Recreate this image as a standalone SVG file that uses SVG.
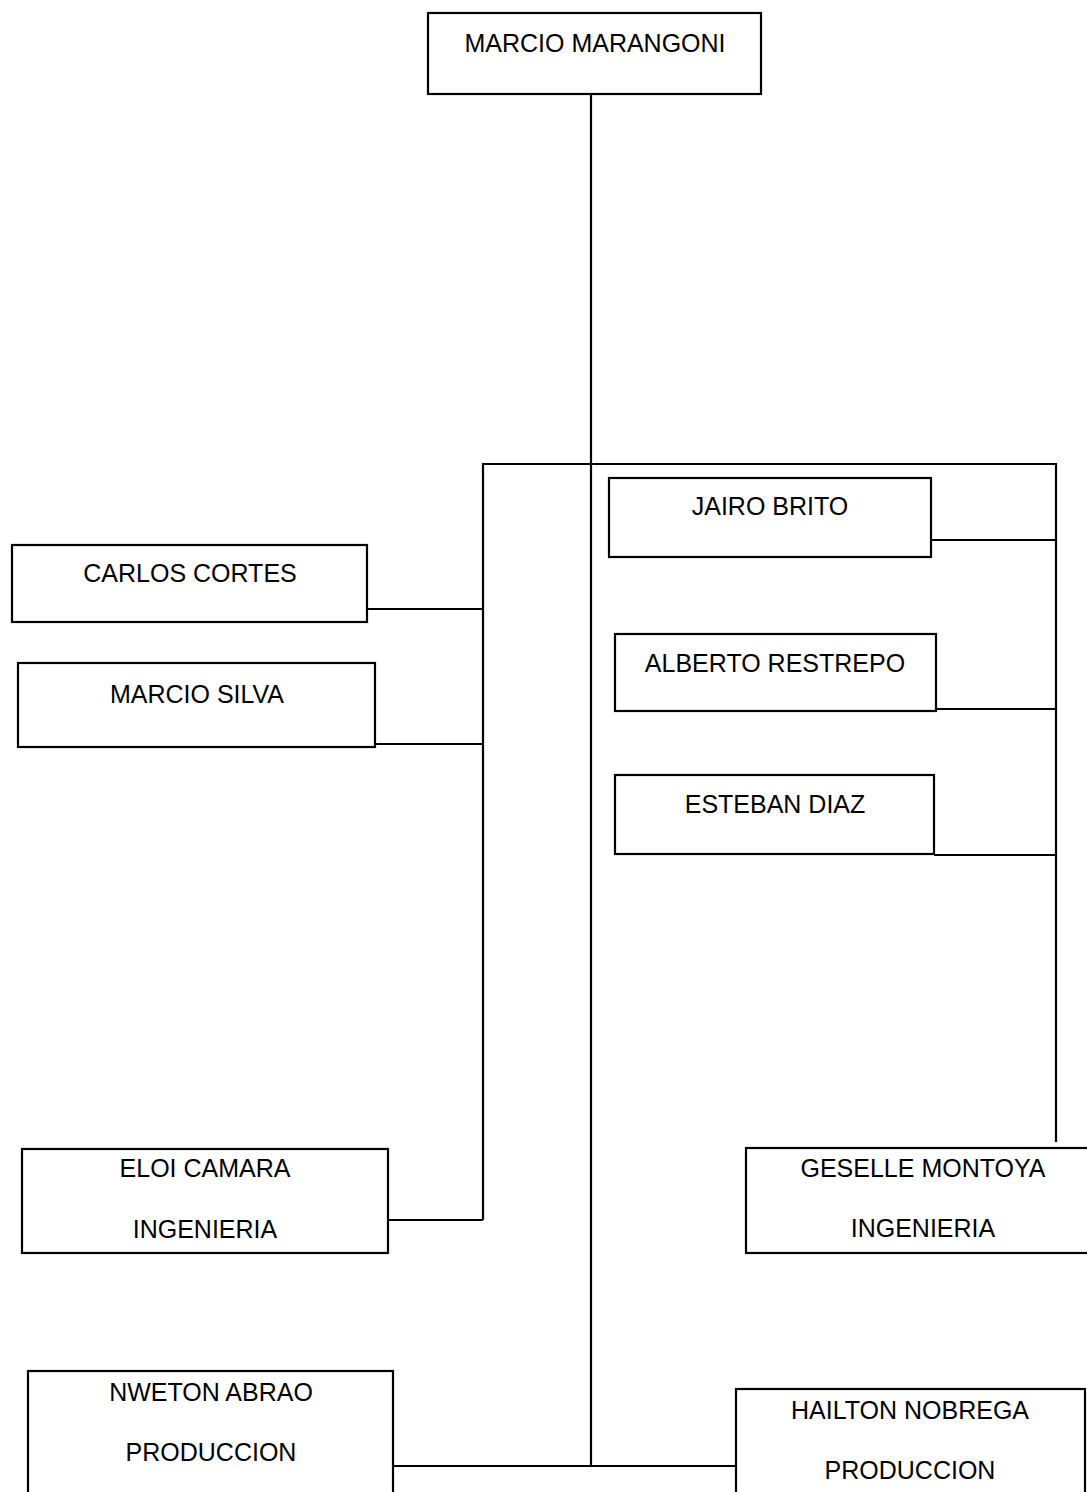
<svg xmlns="http://www.w3.org/2000/svg" width="1087" height="1492" viewBox="0 0 1087 1492">
<style>
.box{fill:#fff;stroke:#000;stroke-width:2.2}
.ln{fill:none;stroke:#000;stroke-width:2.2}
text{font-family:"Liberation Sans",Arial,sans-serif;font-size:25px;fill:#000;text-anchor:middle}
</style>
<rect width="1087" height="1492" fill="#fff"/>
<g id="connectors">
<line class="ln" x1="591" y1="94" x2="591" y2="1466"/>
<polyline class="ln" points="483,1220 483,464 1056,464 1056,1142"/>
<line class="ln" x1="367" y1="609" x2="483" y2="609"/>
<line class="ln" x1="375" y1="744" x2="483" y2="744"/>
<line class="ln" x1="388" y1="1220" x2="483" y2="1220"/>
<line class="ln" x1="931" y1="540" x2="1056" y2="540"/>
<line class="ln" x1="936" y1="709" x2="1056" y2="709"/>
<line class="ln" x1="934" y1="855" x2="1056" y2="855"/>
<line class="ln" x1="393" y1="1466" x2="736" y2="1466"/>
</g>
<g id="marcio-marangoni"><rect class="box" x="428" y="13" width="333" height="81"/><text x="595" y="52">MARCIO MARANGONI</text></g>
<g id="jairo-brito"><rect class="box" x="609" y="478" width="322" height="79"/><text x="770" y="515">JAIRO BRITO</text></g>
<g id="carlos-cortes"><rect class="box" x="12" y="545" width="355" height="77"/><text x="190" y="582">CARLOS CORTES</text></g>
<g id="marcio-silva"><rect class="box" x="18" y="663" width="357" height="84"/><text x="197" y="703">MARCIO SILVA</text></g>
<g id="alberto-restrepo"><rect class="box" x="615" y="634" width="321" height="77"/><text x="775" y="672">ALBERTO RESTREPO</text></g>
<g id="esteban-diaz"><rect class="box" x="615" y="775" width="319" height="79"/><text x="775" y="813">ESTEBAN DIAZ</text></g>
<g id="eloi-camara"><rect class="box" x="22" y="1149" width="366" height="104"/><text x="205" y="1177">ELOI CAMARA</text><text x="205" y="1238">INGENIERIA</text></g>
<g id="geselle-montoya"><rect class="box" x="746" y="1148" width="354" height="105"/><text x="923" y="1177">GESELLE MONTOYA</text><text x="923" y="1237">INGENIERIA</text></g>
<g id="nweton-abrao"><rect class="box" x="28" y="1371" width="365" height="140"/><text x="211" y="1401">NWETON ABRAO</text><text x="211" y="1461">PRODUCCION</text></g>
<g id="hailton-nobrega"><rect class="box" x="736" y="1389" width="349" height="120"/><text x="910" y="1419">HAILTON NOBREGA</text><text x="910" y="1479">PRODUCCION</text></g>
</svg>
